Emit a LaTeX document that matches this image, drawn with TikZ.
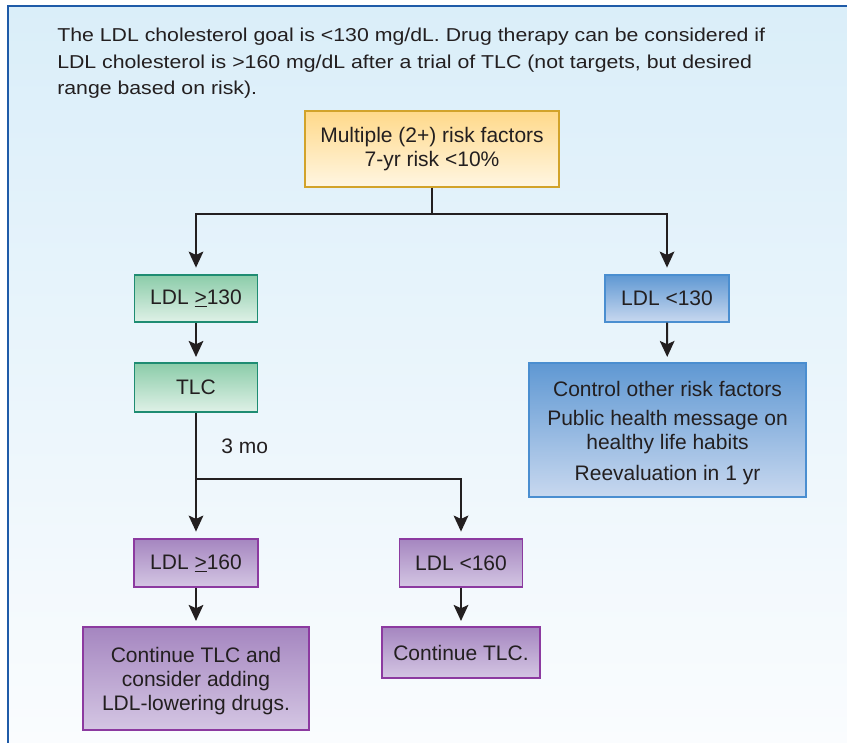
\documentclass[tikz,border=0pt]{standalone}
\usepackage{fontspec}
\setmainfont{Liberation Sans}
\newfontfamily\introfont[FakeStretch=1.14]{Liberation Sans}
\usetikzlibrary{arrows.meta,shadings}

\definecolor{bgtop}{HTML}{DAEEF9}
\definecolor{bgbot}{HTML}{FAFCFE}
\definecolor{framecol}{HTML}{1F5BA8}
\definecolor{ink}{HTML}{231F20}
\definecolor{yeltop}{HTML}{FFD98A}
\definecolor{yelbot}{HTML}{FFF6E2}
\definecolor{yeledge}{HTML}{D2A32A}
\definecolor{grntop}{HTML}{8BCCA9}
\definecolor{grnbot}{HTML}{DFF1E7}
\definecolor{grnedge}{HTML}{1E8C72}
\definecolor{blutop}{HTML}{5F98D3}
\definecolor{blubot}{HTML}{C8D8EF}
\definecolor{bluedge}{HTML}{4A8ED0}
\definecolor{purtop}{HTML}{A586C0}
\definecolor{purbot}{HTML}{D4C6E3}
\definecolor{puredge}{HTML}{8C3AA0}

\newcommand\bxfont{\fontsize{15.75}{18}\selectfont}
% taller first line, lowers a multi-line block slightly inside its box
\newcommand\toprule{\rule{0pt}{16pt}}

\tikzset{
  flowbox/.style={draw, line width=1.1pt, inner sep=0pt, align=center,
    font=\bxfont, text=ink},
  yelbox/.style={flowbox, draw=yeledge, top color=yeltop, bottom color=yelbot},
  grnbox/.style={flowbox, draw=grnedge, top color=grntop, bottom color=grnbot},
  blubox/.style={flowbox, draw=bluedge, top color=blutop, bottom color=blubot},
  purbox/.style={flowbox, draw=puredge, top color=purtop, bottom color=purbot},
  link/.style={draw=ink, line width=1.5pt},
  arrowlink/.style={link, -{Stealth[length=12pt,width=11pt,inset=2.5pt]},
    shorten >=4pt},
}

\begin{document}
\begin{tikzpicture}[x=0.75pt,y=-0.75pt]
\useasboundingbox (0,0) rectangle (847,743);

% panel background and frame
\shade[top color=bgtop, bottom color=bgbot] (8,6) rectangle (847,743);
\draw[framecol, line width=2.2pt] (847,6) -- (8,6) -- (8,743);

% introductory note
\node[anchor=north west, inner sep=0pt, align=left, text=ink,
      font=\introfont\fontsize{14}{19.7}\selectfont] (intro) at (57,28)
  {The LDL cholesterol goal is <130 mg/dL. Drug therapy can be considered if\\
   LDL cholesterol is >160 mg/dL after a trial of TLC (not targets, but desired\\
   range based on risk).};

% flowchart boxes
\node[yelbox, minimum width=254*0.75pt, minimum height=76*0.75pt] (risk) at (432,149)
  {Multiple (2+) risk factors\\7-yr risk <10\%};

\node[grnbox, minimum width=123*0.75pt, minimum height=47*0.75pt] (hi130) at (196,298.5)
  {LDL \underline{>}130};
\node[grnbox, minimum width=123*0.75pt, minimum height=49*0.75pt] (tlc) at (196,387.5)
  {TLC};

\node[blubox, minimum width=124*0.75pt, minimum height=47*0.75pt] (lo130) at (667,298.5)
  {LDL <130};
\node[blubox, minimum width=277*0.75pt, minimum height=134*0.75pt] (control) at (667.5,430)
  {\toprule Control other risk factors\\[4pt]
   Public health message on\\healthy life habits\\[5pt]
   Reevaluation in 1 yr};

\node[purbox, minimum width=124*0.75pt, minimum height=48*0.75pt] (hi160) at (196,563)
  {LDL \underline{>}160};
\node[purbox, minimum width=123*0.75pt, minimum height=48*0.75pt] (lo160) at (461,563)
  {LDL <160};
\node[purbox, minimum width=226*0.75pt, minimum height=103*0.75pt] (drugs) at (196,678.5)
  {\toprule Continue TLC and\\consider adding\\LDL-lowering drugs.};
\node[purbox, minimum width=158*0.75pt, minimum height=51*0.75pt] (cont) at (461,652.5)
  {Continue TLC.};

% branch points
\coordinate (split1) at (432,214);
\coordinate (split2) at (196,479);

% connectors
\draw[link] (risk) -- (split1);
\draw[arrowlink, shorten >=5pt] (split1) -| (hi130);
\draw[arrowlink, shorten >=5pt] (split1) -| (lo130);
\draw[arrowlink] (hi130) -- (tlc);
\draw[arrowlink] (lo130) -- (control);
\draw[link] (tlc) -- (split2);
\draw[arrowlink, shorten >=5pt] (split2) -- (hi160);
\draw[arrowlink, shorten >=5pt] (split2) -| (lo160);
\draw[arrowlink] (hi160) -- (drugs);
\draw[arrowlink] (lo160) -- (cont);

\node[anchor=base west, inner sep=0pt, font=\bxfont, text=ink] (delay) at (221,453) {3 mo};
\end{tikzpicture}
\end{document}
